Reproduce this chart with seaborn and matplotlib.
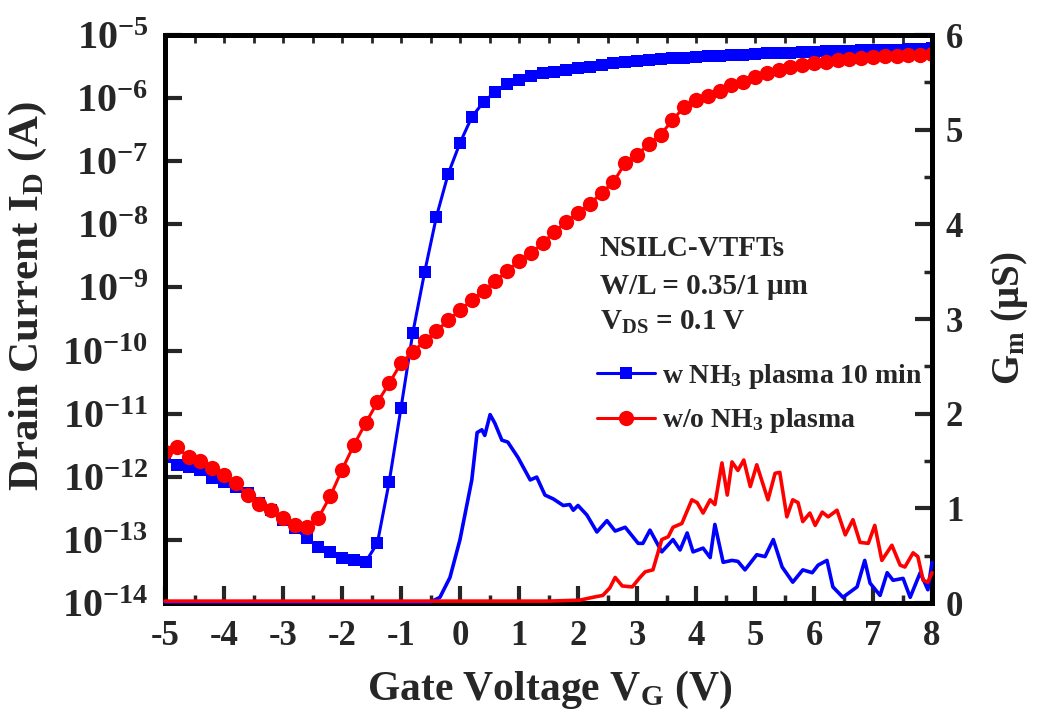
import numpy as np
import pandas as pd
import matplotlib
matplotlib.use("Agg")
import matplotlib.pyplot as plt
from matplotlib.ticker import FixedLocator, FixedFormatter, MultipleLocator
import seaborn as sns

# gate voltage sweep for the Id curves (0.2 V step)
vg = np.round(np.arange(-5, 8.001, 0.2), 1)

# log10(Id), w NH3 plasma 10 min
id_nh3_log = [-11.69, -11.81, -11.85, -11.89, -12.02, -12.08, -12.16, -12.26, -12.42, -12.53,
              -12.69, -12.81, -12.97, -13.11, -13.19, -13.29, -13.32, -13.35, -13.05, -12.08,
              -10.91, -9.72, -8.76, -7.88, -7.20, -6.71, -6.30, -6.06, -5.90, -5.78,
              -5.71, -5.65, -5.61, -5.58, -5.55, -5.52, -5.50, -5.47, -5.45, -5.43,
              -5.41, -5.40, -5.38, -5.37, -5.36, -5.35, -5.34, -5.33, -5.32, -5.31,
              -5.30, -5.29, -5.29, -5.28, -5.27, -5.27, -5.26, -5.26, -5.25, -5.24,
              -5.24, -5.23, -5.23, -5.22, -5.22, -5.21]

# log10(Id), w/o NH3 plasma
id_ref_log = [-11.61, -11.53, -11.69, -11.75, -11.86, -11.97, -12.10, -12.29, -12.43, -12.53,
              -12.65, -12.77, -12.80, -12.65, -12.31, -11.89, -11.50, -11.15, -10.82, -10.52,
              -10.20, -10.02, -9.85, -9.69, -9.52, -9.36, -9.20, -9.05, -8.90, -8.74,
              -8.58, -8.46, -8.30, -8.12, -7.96, -7.82, -7.68, -7.50, -7.33, -7.03,
              -6.90, -6.73, -6.58, -6.35, -6.14, -6.03, -5.97, -5.89, -5.80, -5.74,
              -5.67, -5.61, -5.56, -5.51, -5.47, -5.44, -5.42, -5.40, -5.38, -5.37,
              -5.35, -5.34, -5.33, -5.32, -5.31, -5.30]

# transconductance (uS)
gm_nh3_vg = [-5, -0.5, -0.34, -0.17, 0.0, 0.2, 0.29, 0.37, 0.42, 0.51, 0.59, 0.71, 0.81, 0.98,
             1.19, 1.3, 1.44, 1.58, 1.75, 1.86, 1.92, 2.0, 2.15, 2.32, 2.49, 2.63, 2.8, 3.02,
             3.1, 3.22, 3.42, 3.61, 3.73, 3.85, 3.95, 4.12, 4.24, 4.32, 4.46, 4.61, 4.71, 4.83,
             5.03, 5.17, 5.31, 5.46, 5.64, 5.81, 5.97, 6.07, 6.22, 6.32, 6.49, 6.73, 6.86, 6.95,
             7.12, 7.24, 7.34, 7.51, 7.63, 7.8, 7.93, 8.0]
gm_nh3 = [0.01, 0.01, 0.06, 0.27, 0.67, 1.30, 1.80, 1.83, 1.77, 1.99, 1.90, 1.72, 1.70, 1.54,
          1.30, 1.33, 1.14, 1.10, 1.03, 1.04, 0.98, 1.03, 0.93, 0.75, 0.87, 0.76, 0.80, 0.63,
          0.63, 0.77, 0.54, 0.67, 0.56, 0.74, 0.54, 0.58, 0.48, 0.83, 0.43, 0.45, 0.44, 0.35,
          0.51, 0.49, 0.67, 0.38, 0.22, 0.35, 0.32, 0.40, 0.45, 0.17, 0.06, 0.17, 0.45, 0.21,
          0.08, 0.32, 0.24, 0.26, 0.06, 0.32, 0.14, 0.43]

gm_ref_vg = [-5, 1.0, 1.5, 2.03, 2.25, 2.42, 2.54, 2.63, 2.75, 2.92, 3.05, 3.14, 3.27, 3.42,
             3.53, 3.61, 3.76, 3.93, 4.02, 4.12, 4.24, 4.32, 4.44, 4.53, 4.61, 4.71, 4.81, 4.92,
             5.03, 5.22, 5.34, 5.42, 5.54, 5.64, 5.73, 5.81, 5.93, 6.02, 6.14, 6.24, 6.39, 6.53,
             6.66, 6.78, 6.92, 7.03, 7.15, 7.32, 7.46, 7.54, 7.68, 7.76, 7.85, 7.93, 8.0]
gm_ref = [0.02, 0.02, 0.02, 0.03, 0.06, 0.08, 0.16, 0.27, 0.18, 0.17, 0.27, 0.33, 0.35, 0.67,
          0.70, 0.80, 0.84, 1.09, 1.06, 0.95, 1.09, 1.04, 1.48, 1.14, 1.49, 1.40, 1.51, 1.23,
          1.46, 1.09, 1.37, 1.38, 0.91, 1.09, 1.06, 0.86, 0.95, 0.82, 0.96, 0.91, 0.98, 0.72,
          0.88, 0.64, 0.63, 0.82, 0.45, 0.61, 0.40, 0.38, 0.53, 0.49, 0.24, 0.22, 0.32]

exps = [-5, -6, -7, -8, -9, -10, -11, -12, -13, -14]
x_ticks = list(range(-5, 9))
gm_ticks = [0, 1, 2, 3, 4, 5, 6]

label_nh3 = "w NH$_3$ plasma 10 min"
label_ref = "w/o NH$_3$ plasma"

sns.set_style("ticks")
plt.rcParams["font.family"] = ["Liberation Serif", "DejaVu Serif"]
plt.rcParams["font.weight"] = "bold"
plt.rcParams["axes.labelweight"] = "bold"
plt.rcParams["axes.unicode_minus"] = False
plt.rcParams["mathtext.fontset"] = "custom"
plt.rcParams["mathtext.rm"] = "Liberation Serif:bold"
plt.rcParams["mathtext.it"] = "Liberation Serif:bold"
plt.rcParams["mathtext.bf"] = "Liberation Serif:bold"
plt.rcParams["mathtext.default"] = "rm"

df_id = pd.DataFrame({"vg": vg,
                      "nh3": 10.0 ** np.array(id_nh3_log),
                      "ref": 10.0 ** np.array(id_ref_log)})

fig = plt.figure(figsize=(10.47, 7.26), dpi=100)
ax = fig.add_axes([165 / 1047, 123 / 726, 767 / 1047, 568 / 726])
ax.set_yscale("log")

sns.lineplot(data=df_id, x="vg", y="nh3", ax=ax, color="#0000ff", marker="s", markersize=9,
             markeredgewidth=0, linewidth=2.2, legend=False, zorder=3)
sns.lineplot(data=df_id, x="vg", y="ref", ax=ax, color="#ff0000", marker="o", markersize=11,
             markeredgewidth=0, linewidth=2.2, legend=False, zorder=4)

ax.set_xlim(-5, 8)
ax.set_ylim(1e-14, 1e-5)
ax.yaxis.set_major_locator(FixedLocator([10.0 ** e for e in exps]))
ax.yaxis.set_major_formatter(FixedFormatter(["$10^{%d}$" % e for e in exps]))
ax.yaxis.set_minor_locator(FixedLocator([]))
ax.xaxis.set_major_locator(FixedLocator(x_ticks))
ax.xaxis.set_minor_locator(MultipleLocator(0.5))

ax.tick_params(axis="y", which="major", direction="in", length=12, width=3, labelsize=29, pad=12)
ax.tick_params(axis="x", which="major", direction="in", length=12, width=3, labelsize=25, pad=12)
ax.tick_params(axis="x", which="minor", direction="in", length=6, width=2.5)
ax.tick_params(right=False)

top = ax.secondary_xaxis("top")
top.xaxis.set_major_locator(MultipleLocator(0.5))
top.tick_params(direction="in", length=6, width=2, labeltop=False)

ax.set_ylabel("")
ax.set_xlabel("")
fig.text(550 / 1047, 1 - 690 / 726, "Gate Voltage V$_G$ (V)", fontsize=30, ha="center", va="center")
fig.text(28 / 1047, 1 - 296 / 726, "Drain Current I$_D$ (A)", fontsize=31, ha="center",
         va="center", rotation=90)

ax2 = ax.twinx()
sns.lineplot(x=gm_nh3_vg, y=gm_nh3, ax=ax2, color="#0000ff", linewidth=2.6, legend=False,
             zorder=3, clip_on=False)
sns.lineplot(x=gm_ref_vg, y=gm_ref, ax=ax2, color="#ff0000", linewidth=2.6, legend=False,
             zorder=3, clip_on=False)
ax2.set_ylim(0, 6)
ax2.yaxis.set_major_locator(FixedLocator(gm_ticks))
ax2.yaxis.set_minor_locator(MultipleLocator(0.5))
ax2.tick_params(axis="y", which="major", direction="in", length=12, width=3, labelsize=25, pad=10)
ax2.tick_params(axis="y", which="minor", direction="in", length=6, width=2.5)
ax2.set_ylabel("")
fig.text(1010 / 1047, 1 - 318 / 726, "G$_m$ (μS)", fontsize=28, ha="center", va="center",
         rotation=90)

for a in (ax, ax2):
    for s in a.spines.values():
        s.set_linewidth(3.5)
        s.set_color("black")
top.spines["top"].set_linewidth(3.5)

# annotation block
fig.text(600 / 1047, 1 - 256 / 726, "NSILC-VTFTs", fontsize=21, ha="left", va="baseline")
fig.text(600 / 1047, 1 - 294 / 726, "W/L = 0.35/1 μm", fontsize=21, ha="left", va="baseline")
fig.text(600 / 1047, 1 - 330 / 726, "V$_{DS}$ = 0.1 V", fontsize=21, ha="left", va="baseline")

lines = ax.get_lines()
leg = ax2.legend([lines[0], lines[1]], [label_nh3, label_ref], loc="upper left",
                 bbox_to_anchor=(597 / 1047, 1 - 362 / 726), bbox_transform=fig.transFigure,
                 frameon=False, fontsize=20, handlelength=2.1, handletextpad=0.25,
                 labelspacing=0.55, borderpad=0, borderaxespad=0)

fig.savefig("out.png", dpi=100)
